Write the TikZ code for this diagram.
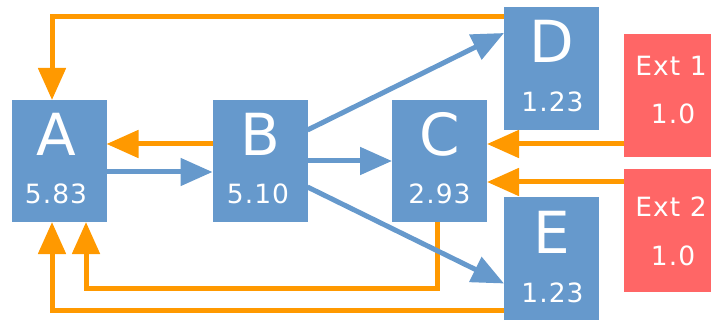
\documentclass[tikz,border=0pt]{standalone}
\usepackage{fontspec}
\setmainfont{DejaVu Sans}
\newfontfamily\valfont[LetterSpace=4]{DejaVu Sans}
\usetikzlibrary{arrows.meta,calc}
\definecolor{boxblue}{RGB}{102,153,204}
\definecolor{flowor}{RGB}{255,153,0}
\definecolor{extred}{RGB}{255,102,102}
\begin{document}
\begin{tikzpicture}[x=1pt,y=-1pt,
  blk/.style={fill=boxblue,minimum width=95pt,minimum height=122pt,inner sep=0pt,outer sep=0pt},
  ext/.style={fill=extred,minimum width=95pt,minimum height=123pt,inner sep=0pt,outer sep=0pt},
  big/.style={text=white,font=\fontsize{58}{58}\selectfont,anchor=base,inner sep=0pt},
  val/.style={text=white,font=\valfont\fontsize{26.5}{26.5}\selectfont,anchor=base,inner sep=0pt},
  flow/.style={draw=boxblue,line width=5pt,-{Triangle[length=32pt,width=27pt]}},
  back/.style={draw=flowor,line width=5pt,-{Triangle[length=32pt,width=27pt]}},
]
\useasboundingbox (0,0) rectangle (711,320);
\clip (0,0) rectangle (711,320);

% compartments
\node[blk] (A) at (59,161) {};
\node[blk] (B) at (260,161) {};
\node[blk] (C) at (439.5,161) {};
\node[blk,minimum height=123pt] (D) at (551.5,68.5) {};
\node[blk,minimum height=123pt] (E) at (551.5,258.5) {};
\node[ext] (X1) at (671.5,95.5) {};
\node[ext] (X2) at (671.5,230.5) {};

% names and values
\node[big] (A-name) at (56,156) {A};
\node[val] (A-val) at (56,204) {5.83};
\node[big] (B-name) at (260,156) {B};
\node[val] (B-val) at (258,204) {5.10};
\node[big] (C-name) at (439.5,156) {C};
\node[val] (C-val) at (439.5,204) {2.93};
\node[big] (D-name) at (551.5,63) {D};
\node[val] (D-val) at (552.5,112) {1.23};
\node[big] (E-name) at (551.5,253) {E};
\node[val] (E-val) at (552.5,302) {1.23};
\node[val] (X1-name) at (671,76) {Ext 1};
\node[val] (X1-val) at (673,124) {1.0};
\node[val] (X2-name) at (671,217) {Ext 2};
\node[val] (X2-val) at (673,265) {1.0};

% anchor points for the return flows
\coordinate (dA) at ($(D.north west)+(0,10)$);
\coordinate (eA) at ($(E.south west)+(0,-10)$);
\coordinate (cA) at ($(C.south)+(-2.5,0)$);
\coordinate (aTop) at ($(A.north)+(-7,0)$);
\coordinate (aBot1) at ($(A.south)+(-7,0)$);
\coordinate (aBot2) at ($(A.south)+(27,0)$);

% return flows (orange)
\draw[back] (dA) -| (aTop);
\draw[back] (eA) -| (aBot1);
\draw[back] (cA) -- ++(0,66) -| (aBot2);
\draw[back] ($(B.west)+(0,-17)$) -- ($(A.east)+(0,-17)$);
\draw[back] ($(X1.west)+(0,48.5)$) -- ($(C.east)+(0,-17)$);
\draw[back] ($(X2.west)+(0,-48.5)$) -- ($(C.east)+(0,21)$);

% forward flows (blue)
\draw[flow] ($(A.east)+(0,11)$) -- ($(B.west)+(0,11)$);
\draw[flow] (B.east) -- (C.west);
\draw[flow] ($(B.east)+(0,-31)$) -- ($(D.west)+(0,-35.5)$);
\draw[flow] ($(B.east)+(0,26)$) -- ($(E.west)+(0,25)$);
\end{tikzpicture}
\end{document}
